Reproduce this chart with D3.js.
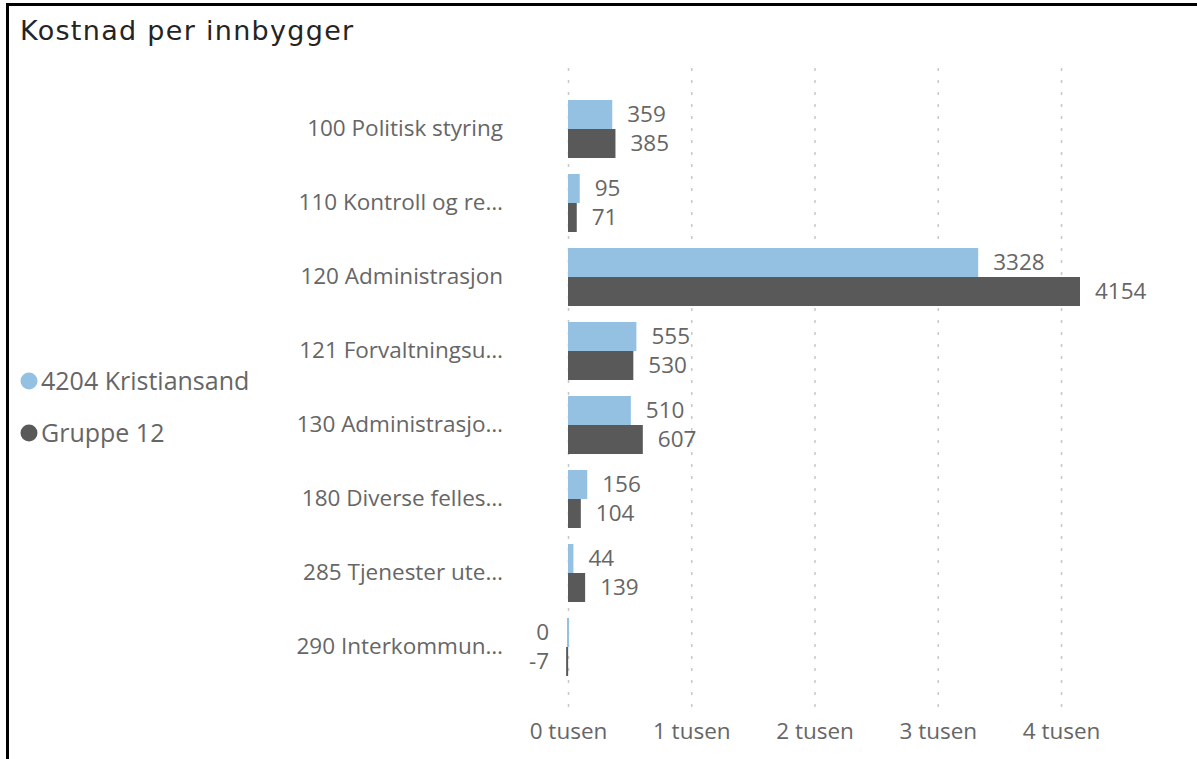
<!DOCTYPE html>
<html>
<head>
<meta charset="utf-8">
<script src="https://cdn.jsdelivr.net/npm/d3@7"></script>
<style>
  body { margin: 0; background: #fff; }
  text { font-family: "Open Sans", sans-serif; }
</style>
</head>
<body>
<div id="chart-area"></div>
<script>
// data
const categories = [
    "100 Politisk styring",
    "110 Kontroll og re…",
    "120 Administrasjon",
    "121 Forvaltningsu…",
    "130 Administrasjo…",
    "180 Diverse felles…",
    "285 Tjenester ute…",
    "290 Interkommun…"
];
const seriesNames = ["4204 Kristiansand", "Gruppe 12"];
const kristiansand = [359, 95, 3328, 555, 510, 156, 44, 0];
const gruppe12 = [385, 71, 4154, 530, 607, 104, 139, -7];
const xTicks = [0, 1000, 2000, 3000, 4000];
const colors = ["#94c1e2", "#595959"];

let width = 1197, height = 759;
let plotLeft = 568, plotRight = 1080;
let bandTop = 92, bandBottom = 684;
let gridTop = 68, gridBottom = 707;
let labelSize = "22.5px";

const svg = d3.select("#chart-area").append("svg")
    .attr("width", width)
    .attr("height", height)

// frame
svg.append("path")
    .attr("d", `M7.5,${height} L7.5,4.5 L${width},4.5`)
    .attr("fill", "none")
    .attr("stroke", "#000")
    .attr("stroke-width", 3)

// title
svg.append("text")
    .attr("x", 20)
    .attr("y", 40)
    .attr("font-size", "27px")
    .attr("letter-spacing", "1.3px")
    .attr("fill", "#252423")
    .style("font-family", "'DejaVu Sans', sans-serif")
    .text("Kostnad per innbygger")

const rows = categories.map((c, i) => {
    return {cat: c, values: [kristiansand[i], gruppe12[i]]};
});

// scales
const x = d3.scaleLinear()
    .domain([0, 4154])
    .range([plotLeft, plotRight])

const y = d3.scaleBand()
    .domain(categories)
    .range([bandTop, bandBottom])
    .paddingInner(0.216)
    .paddingOuter(0.108)

const ySub = d3.scaleBand()
    .domain([0, 1])
    .range([0, y.bandwidth()])

// grid
svg.append("g").selectAll("line")
    .data(xTicks)
    .enter().append("line")
    .attr("x1", d => x(d) + 0.5)
    .attr("x2", d => x(d) + 0.5)
    .attr("y1", gridTop)
    .attr("y2", gridBottom)
    .attr("stroke", "#c8c8c8")
    .attr("stroke-width", 1.5)
    .attr("stroke-dasharray", "3,9")

// x axis labels
const xAxis = d3.axisBottom(x)
    .tickValues(xTicks)
    .tickFormat(d => (d / 1000) + " tusen")
    .tickSize(0)
    .tickPadding(0)
svg.append("g")
    .attr("transform", "translate(0,731)")
    .call(xAxis)
    .call(g => g.select(".domain").remove())
    .selectAll("text")
        .attr("font-size", labelSize)
        .attr("fill", "#666")
        .attr("dy", "0.35em")
        .style("font-family", "'Open Sans', sans-serif")

// y axis labels
const yAxis = d3.axisLeft(y).tickSize(0).tickPadding(0)
svg.append("g")
    .attr("transform", "translate(503,0)")
    .call(yAxis)
    .call(g => g.select(".domain").remove())
    .selectAll("text")
        .attr("font-size", labelSize)
        .attr("fill", "#666")
        .style("font-family", "'Open Sans', sans-serif")

// bars
const groups = svg.append("g").selectAll("g")
    .data(rows)
    .enter().append("g")
    .attr("transform", d => `translate(0,${y(d.cat)})`)

groups.selectAll("rect")
    .data(d => d.values)
    .enter().append("rect")
    .attr("x", d => Math.min(x(d), x(0)) - (d <= 0 ? 1 : 0))
    .attr("y", (d, i) => ySub(i))
    .attr("width", d => Math.max(Math.abs(x(d) - x(0)), 2))
    .attr("height", ySub.bandwidth())
    .attr("fill", (d, i) => colors[i])

groups.selectAll("text")
    .data(d => d.values)
    .enter().append("text")
    .attr("x", d => d > 0 ? x(d) + 15 : x(0) - 19)
    .attr("y", (d, i) => ySub(i) + ySub.bandwidth() / 2)
    .attr("dy", "0.35em")
    .attr("text-anchor", d => d > 0 ? "start" : "end")
    .attr("font-size", labelSize)
    .attr("fill", "#666")
    .text(d => d)

// legend
const legend = svg.append("g").selectAll("g")
    .data(seriesNames)
    .enter().append("g")
    .attr("transform", (d, i) => `translate(29,${381 + i * 52})`)

legend.append("circle")
    .attr("r", 8.5)
    .attr("fill", (d, i) => colors[i])

legend.append("text")
    .attr("x", 12)
    .attr("dy", "0.35em")
    .attr("font-size", "25px")
    .attr("fill", "#666")
    .text(d => d)
</script>
</body>
</html>
